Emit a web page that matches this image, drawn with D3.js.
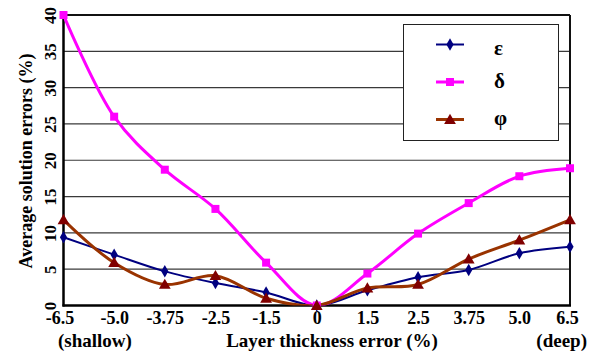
<!DOCTYPE html>
<html>
<head>
<meta charset="utf-8">
<script src="https://cdn.jsdelivr.net/npm/d3@7"></script>
<style>
  html, body { margin: 0; padding: 0; background: #fff; }
  svg { display: block; }
  text { font-family: "Liberation Serif", "Times New Roman", serif; font-weight: bold; fill: #000; }
</style>
</head>
<body>
<svg id="chart" width="593" height="352"></svg>
<script>
// ---- data ----
const categories = ["-6.5", "-5.0", "-3.75", "-2.5", "-1.5", "0", "1.5", "2.5", "3.75", "5.0", "6.5"];
const epsilon = [9.4, 7.0, 4.7, 3.1, 1.8, 0.0, 2.1, 3.9, 4.9, 7.2, 8.1];
const delta   = [40.0, 26.0, 18.7, 13.3, 5.9, 0.0, 4.4, 9.9, 14.1, 17.8, 18.9];
const phi     = [11.8, 5.9, 2.9, 4.1, 1.0, 0.0, 2.4, 2.9, 6.4, 9.0, 11.8];
const yTicks  = [0, 5, 10, 15, 20, 25, 30, 35, 40];
const seriesNames = ["ε", "δ", "φ"];

const svg = d3.select("#chart");
const L = 63.5, R = 570, T = 15, B = 305.5;

const x = d3.scalePoint().domain(categories).range([L, R]);
const y = d3.scaleLinear().domain([0, 40]).range([B, T]);

// gridlines
svg.append("g").selectAll("line").data(yTicks.filter(v => v > 0 && v < 40)).join("line")
  .attr("x1", L).attr("x2", R)
  .attr("y1", d => y(d)).attr("y2", d => y(d))
  .attr("stroke", "#3a3a3a").attr("stroke-width", 1.2);

// frame top/right
svg.append("line").attr("x1", L).attr("x2", R).attr("y1", T).attr("y2", T).attr("stroke", "#111").attr("stroke-width", 2);
svg.append("line").attr("x1", R).attr("x2", R).attr("y1", T).attr("y2", B).attr("stroke", "#111").attr("stroke-width", 2);

// x axis (labels only via d3 axis)
const xAxis = svg.append("g").attr("transform", `translate(0,${B})`)
  .call(d3.axisBottom(x).tickSize(0).tickPadding(0));
xAxis.select(".domain").remove();
xAxis.selectAll("text")
  .attr("font-size", 18).attr("y", 18).attr("dy", 0)
  .style("font-family", '"Liberation Serif", serif').style("font-weight", "bold")
  .attr("dx", (d, i) => i === 0 ? -4 : (i === categories.length - 1 ? -3 : 0));

// y axis (rotated labels)
const yAxis = svg.append("g").attr("transform", `translate(${L},0)`)
  .call(d3.axisLeft(y).tickValues(yTicks).tickSize(0).tickPadding(0));
yAxis.select(".domain").remove();
yAxis.selectAll(".tick text")
  .attr("x", 0).attr("dy", 0)
  .attr("text-anchor", "middle")
  .attr("font-size", 17)
  .style("font-family", '"Liberation Serif", serif').style("font-weight", "bold")
  .attr("transform", "translate(-7.5,0) rotate(-90)");

// axes lines (thick)
svg.append("line").attr("x1", L).attr("x2", L).attr("y1", T - 1).attr("y2", B + 1).attr("stroke", "#000").attr("stroke-width", 2.5);
svg.append("line").attr("x1", L - 1).attr("x2", R + 1).attr("y1", B).attr("y2", B).attr("stroke", "#000").attr("stroke-width", 2.5);

// titles
svg.append("text").attr("x", 332).attr("y", 347).attr("text-anchor", "middle").attr("font-size", 19)
  .text("Layer thickness error (%)");
svg.append("text").attr("x", 58).attr("y", 347).attr("font-size", 19).text("(shallow)");
svg.append("text").attr("x", 587).attr("y", 347).attr("text-anchor", "end").attr("font-size", 19).text("(deep)");
svg.append("text").attr("transform", "translate(32,161) rotate(-90)").attr("text-anchor", "middle").attr("font-size", 18)
  .text("Average solution errors (%)");

// series
const line = d3.line().x((d, i) => x(categories[i])).y(d => y(d)).curve(d3.curveCatmullRom.alpha(0.5));
const series = [
  { name: seriesNames[0], values: epsilon, color: "#000080", mcolor: "#000080", width: 2, marker: d3.symbolDiamond, msize: 45 },
  { name: seriesNames[1], values: delta,   color: "#ff00ff", mcolor: "#ff00ff", width: 3, marker: d3.symbolSquare, msize: 64 },
  { name: seriesNames[2], values: phi,     color: "#993300", mcolor: "#800000", width: 3, marker: d3.symbolTriangle, msize: 60 }
];

const clip = svg.append("defs").append("clipPath").attr("id", "pc");
clip.append("rect").attr("x", L).attr("y", T - 6).attr("width", R - L + 6).attr("height", B - T + 6);

// draw in order so epsilon on top? reference: phi over epsilon near -5; draw epsilon, delta, phi
series.forEach(s => {
  svg.append("path").attr("d", line(s.values)).attr("fill", "none")
    .attr("stroke", s.color).attr("stroke-width", s.width).attr("stroke-linejoin", "round")
    .attr("clip-path", "url(#pc)");
});
series.forEach(s => {
  svg.append("g").selectAll("path").data(s.values).join("path")
    .attr("d", d3.symbol().type(s.marker).size(s.msize))
    .attr("transform", (d, i) => `translate(${x(categories[i])},${y(d) + (s.marker === d3.symbolTriangle ? 1 : 0)})`)
    .attr("fill", s.mcolor);
});

// legend
const lg = svg.append("g");
lg.append("rect").attr("x", 403.5).attr("y", 24.5).attr("width", 155).attr("height", 116)
  .attr("fill", "#fff").attr("stroke", "#222").attr("stroke-width", 1);
const ly = [44.5, 82, 119.5];
const lty = [55, 88, 125];
series.forEach((s, i) => {
  lg.append("line").attr("x1", 436).attr("x2", 464).attr("y1", ly[i]).attr("y2", ly[i])
    .attr("stroke", s.color).attr("stroke-width", s.width);
  lg.append("path").attr("d", d3.symbol().type(s.marker).size(s.msize)())
    .attr("transform", `translate(450,${ly[i] + (s.marker === d3.symbolTriangle ? 1 : 0)})`).attr("fill", s.mcolor);
  lg.append("text").attr("x", 494).attr("y", lty[i]).attr("font-size", 21).text(s.name);
});
</script>
</body>
</html>
